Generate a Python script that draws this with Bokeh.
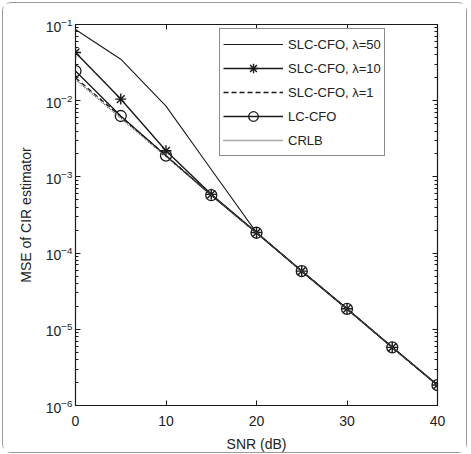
from bokeh.plotting import figure
from bokeh.models import (LinearAxis, LogAxis, FixedTicker, Legend, LegendItem,
                          Range1d, CustomJSTickFormatter)
from bokeh.embed import file_html
from bokeh.resources import INLINE

# SNR grid (dB) and MSE curves of the CIR estimator
snr = [0, 5, 10, 15, 20, 25, 30, 35, 40]
mse_slc_50 = [0.086, 0.035, 0.0085, 0.00125, 1.86e-4, 5.8e-5, 1.86e-5, 5.8e-6, 1.86e-6]
mse_slc_10 = [0.043, 0.0105, 0.0022, 5.9e-4, 1.86e-4, 5.8e-5, 1.86e-5, 5.8e-6, 1.86e-6]
mse_slc_1 = [0.020, 0.0062, 0.0019, 5.8e-4, 1.85e-4, 5.8e-5, 1.85e-5, 5.8e-6, 1.85e-6]
mse_lc = [0.0245, 0.0063, 0.0019, 5.75e-4, 1.85e-4, 5.8e-5, 1.85e-5, 5.8e-6, 1.85e-6]
mse_crlb = [0.019, 0.0059, 0.00185, 5.8e-4, 1.84e-4, 5.8e-5, 1.84e-5, 5.8e-6, 1.84e-6]

x_ticks = [0, 10, 20, 30, 40]
y_exponents = [-6, -5, -4, -3, -2, -1]
y_ticks = [10.0 ** e for e in y_exponents]
y_minor = [m * 10.0 ** e for e in y_exponents[:-1] for m in range(2, 10)]

FONT = "Liberation Sans"
INK = "#1a1a1a"
TXT = "#222222"

p = figure(width=465, height=451, y_axis_type="log",
           x_range=Range1d(0, 40), y_range=Range1d(1e-6, 1e-1),
           output_backend="svg", toolbar_location=None,
           min_border_left=72, min_border_right=31,
           min_border_top=21, min_border_bottom=47,
           x_axis_label="SNR (dB)", y_axis_label="MSE of CIR estimator")
p.styles = {"margin": "2px 2px 0 2px", "border": "1px solid #9a9a9a",
            "border-radius": "9px"}
p.grid.visible = False
p.outline_line_color = INK
p.outline_line_width = 1.2
p.background_fill_color = "white"
p.border_fill_color = "white"

# bottom / left axes
xa = p.xaxis[0]
xa.ticker = FixedTicker(ticks=x_ticks)
ya = p.yaxis[0]
ya.ticker = FixedTicker(ticks=y_ticks, minor_ticks=y_minor)
for ax in (xa, ya):
    ax.major_tick_in = 5
    ax.major_tick_out = 0
    ax.minor_tick_in = 3
    ax.minor_tick_out = 0
    ax.axis_line_color = INK
    ax.major_tick_line_color = INK
    ax.minor_tick_line_color = INK
    ax.major_label_text_font = FONT
    ax.major_label_text_font_size = "14px"
    ax.major_label_text_color = TXT
    ax.axis_label_text_font = FONT
    ax.axis_label_text_font_size = "14px"
    ax.axis_label_text_font_style = "normal"
    ax.axis_label_text_color = TXT
xa.major_label_standoff = 10
xa.axis_label_standoff = 7
ya.major_label_standoff = 3
ya.axis_label_standoff = 9

# mirrored top / right axes carry ticks only
blank = CustomJSTickFormatter(code="return ''")
top = LinearAxis(ticker=FixedTicker(ticks=x_ticks), formatter=blank)
right = LogAxis(ticker=FixedTicker(ticks=y_ticks, minor_ticks=y_minor), formatter=blank)
for ax in (top, right):
    ax.major_tick_in = 5
    ax.major_tick_out = 0
    ax.minor_tick_in = 3
    ax.minor_tick_out = 0
    ax.axis_line_color = INK
    ax.major_tick_line_color = INK
    ax.minor_tick_line_color = INK
    ax.major_label_text_color = None
    ax.major_label_standoff = 0
p.add_layout(top, "above")
p.add_layout(right, "right")

# curves
r50 = p.line(snr, mse_slc_50, line_color=INK, line_width=1.1)
r10 = p.line(snr, mse_slc_10, line_color=INK, line_width=1.4)
m10 = p.scatter(snr, mse_slc_10, marker="asterisk", size=11, line_color=INK, line_width=1.4)
r1 = p.line(snr, mse_slc_1, line_color=INK, line_width=1.3, line_dash="5 3")
rlc = p.line(snr, mse_lc, line_color=INK, line_width=1.3)
mlc = p.scatter(snr, mse_lc, marker="circle", size=11, line_color=INK,
                fill_color=None, line_width=1.3)
rcr = p.line(snr, mse_crlb, line_color="#555555", line_width=1.3, line_dash="1 1")

legend = Legend(items=[
    LegendItem(label="SLC-CFO, λ=50", renderers=[r50]),
    LegendItem(label="SLC-CFO, λ=10", renderers=[r10, m10]),
    LegendItem(label="SLC-CFO, λ=1", renderers=[r1]),
    LegendItem(label="LC-CFO", renderers=[rlc, mlc]),
    LegendItem(label="CRLB", renderers=[rcr]),
], location=(144, 249))
legend.label_text_font = FONT
legend.label_text_font_size = "13px"
legend.label_text_color = TXT
legend.glyph_width = 60
legend.glyph_height = 24
legend.label_height = 24
legend.label_standoff = 5
legend.spacing = -4
legend.padding = 3
legend.margin = 0
legend.border_line_color = INK
legend.border_line_width = 1.2
legend.background_fill_alpha = 1.0
p.add_layout(legend, "center")

open("out.html", "w").write(file_html(p, INLINE))
